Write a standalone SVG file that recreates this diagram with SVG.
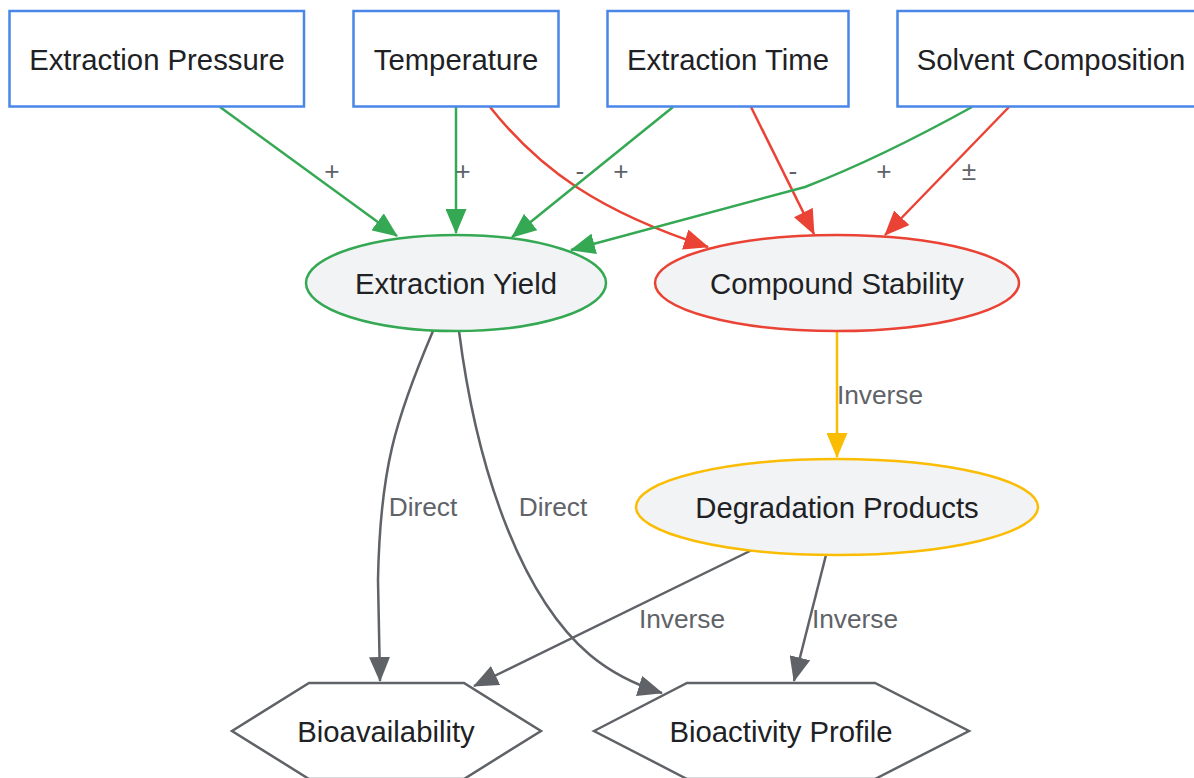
<svg xmlns="http://www.w3.org/2000/svg" width="1194" height="778" viewBox="0 0 1194 778">
<style>
.box{fill:#fff;stroke:#4a86e8;stroke-width:2.5}
.ell{fill:#f1f3f4;stroke-width:2.5}
.hex{fill:#fff;stroke:#5f6368;stroke-width:2.5}
.t{font-family:"Liberation Sans",Arial,sans-serif;font-size:29.3px;fill:#202124;text-anchor:middle;dominant-baseline:central}
.l{font-family:"Liberation Sans",Arial,sans-serif;font-size:26.3px;fill:#5f6368;text-anchor:middle;dominant-baseline:central}
.e{fill:none;stroke-width:2.5}
.g{stroke:#34a853}.r{stroke:#ea4335}.y{stroke:#fbbc04}.k{stroke:#5f6368}
</style>
<defs>
<marker id="ag" markerUnits="userSpaceOnUse" markerWidth="25" markerHeight="21" refX="24" refY="10.5" orient="auto" viewBox="0 0 25 21"><path d="M0,0 L25,10.5 L0,21 z" fill="#34a853"/></marker>
<marker id="ar" markerUnits="userSpaceOnUse" markerWidth="25" markerHeight="21" refX="24" refY="10.5" orient="auto" viewBox="0 0 25 21"><path d="M0,0 L25,10.5 L0,21 z" fill="#ea4335"/></marker>
<marker id="ay" markerUnits="userSpaceOnUse" markerWidth="25" markerHeight="21" refX="24" refY="10.5" orient="auto" viewBox="0 0 25 21"><path d="M0,0 L25,10.5 L0,21 z" fill="#fbbc04"/></marker>
<marker id="ak" markerUnits="userSpaceOnUse" markerWidth="25" markerHeight="21" refX="24" refY="10.5" orient="auto" viewBox="0 0 25 21"><path d="M0,0 L25,10.5 L0,21 z" fill="#5f6368"/></marker>
</defs>
<g id="connectors">
<path class="e g" d="M220,107 L397,236" marker-end="url(#ag)"/>
<path class="e g" d="M456,107 L456,233" marker-end="url(#ag)"/>
<path class="e r" d="M490,107 C540,170 600,212 708,247" marker-end="url(#ar)"/>
<path class="e g" d="M673,107 L512,237" marker-end="url(#ag)"/>
<path class="e r" d="M751,107 L814,234" marker-end="url(#ar)"/>
<path class="e g" d="M972,107 Q880,158 805,187 L571,250" marker-end="url(#ag)"/>
<path class="e r" d="M1009,107 L885,235" marker-end="url(#ar)"/>
<path class="e y" d="M837,331 L837,457" marker-end="url(#ay)"/>
<path class="e k" d="M433,331 C395,420 380,470 378,580 L380,681" marker-end="url(#ak)"/>
<path class="e k" d="M459,331 C478,480 525,600 590,655 Q620,680 662,693" marker-end="url(#ak)"/>
<path class="e k" d="M752,550 L474,686" marker-end="url(#ak)"/>
<path class="e k" d="M826,555 L794,681" marker-end="url(#ak)"/>
<text class="l" x="332" y="171">+</text>
<text class="l" x="463" y="171">+</text>
<text class="l" x="580" y="171">-</text>
<text class="l" x="621" y="171">+</text>
<text class="l" x="793" y="171">-</text>
<text class="l" x="884" y="171">+</text>
<text class="l" x="969" y="171">±</text>
<text class="l" x="880" y="395">Inverse</text>
<text class="l" x="423" y="507">Direct</text>
<text class="l" x="553" y="507">Direct</text>
<text class="l" x="682" y="619">Inverse</text>
<text class="l" x="855" y="619">Inverse</text>
</g>
<g id="extraction-pressure"><rect class="box" x="9.5" y="11" width="294.5" height="95.5"/><text class="t" x="157" y="59">Extraction Pressure</text></g>
<g id="temperature"><rect class="box" x="353.5" y="11" width="205" height="95.5"/><text class="t" x="456" y="59">Temperature</text></g>
<g id="extraction-time"><rect class="box" x="607.5" y="11" width="241" height="95.5"/><text class="t" x="728" y="59">Extraction Time</text></g>
<g id="solvent-composition"><rect class="box" x="897.5" y="11" width="310" height="95.5"/><text class="t" x="1051" y="59">Solvent Composition</text></g>
<g id="extraction-yield"><ellipse class="ell" stroke="#34a853" cx="456" cy="283" rx="150" ry="48"/><text class="t" x="456" y="283">Extraction Yield</text></g>
<g id="compound-stability"><ellipse class="ell" stroke="#ea4335" cx="837" cy="283" rx="182" ry="48"/><text class="t" x="837" y="283">Compound Stability</text></g>
<g id="degradation-products"><ellipse class="ell" stroke="#fbbc04" cx="837" cy="507" rx="201" ry="48"/><text class="t" x="837" y="507">Degradation Products</text></g>
<g id="bioavailability"><polygon class="hex" points="232,731 309,683 464,683 541,731 464,779 309,779"/><text class="t" x="386" y="731">Bioavailability</text></g>
<g id="bioactivity-profile"><polygon class="hex" points="594,731 687,683 875,683 969,731 875,779 687,779"/><text class="t" x="781" y="731">Bioactivity Profile</text></g>
</svg>
